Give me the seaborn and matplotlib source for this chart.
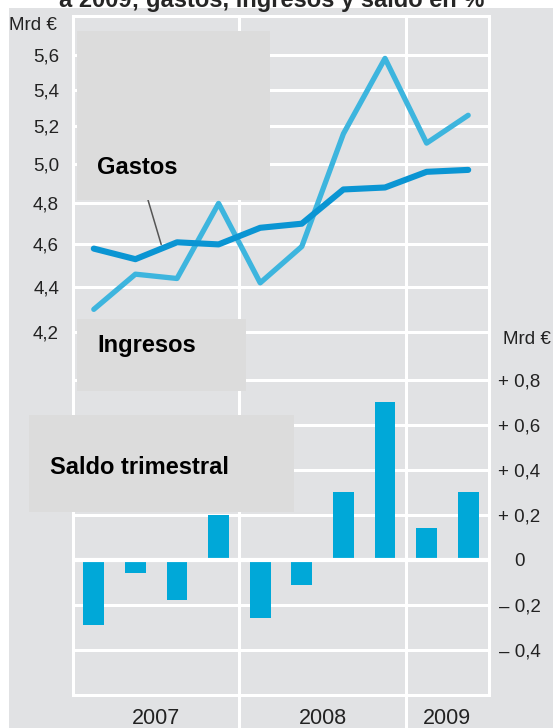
import numpy as np
import seaborn as sns
import matplotlib.pyplot as plt
from matplotlib.patches import Rectangle

# Datos trimestrales 2007 T1 - 2009 T2 (Mrd €)
trimestres = ["2007 T1", "2007 T2", "2007 T3", "2007 T4",
              "2008 T1", "2008 T2", "2008 T3", "2008 T4",
              "2009 T1", "2009 T2"]
gastos = [4.58, 4.53, 4.61, 4.60, 4.68, 4.70, 4.87, 4.88, 4.96, 4.97]
ingresos = [4.30, 4.46, 4.44, 4.80, 4.42, 4.59, 5.16, 5.58, 5.11, 5.26]
saldo = [-0.29, -0.06, -0.18, 0.20, -0.26, -0.11, 0.30, 0.70, 0.14, 0.30]

anios = ["2007", "2008", "2009"]
ticks_sup = [4.2, 4.4, 4.6, 4.8, 5.0, 5.2, 5.4, 5.6]
labels_sup = ["4,2", "4,4", "4,6", "4,8", "5,0", "5,2", "5,4", "5,6"]
ticks_inf = [-0.4, -0.2, 0.0, 0.2, 0.4, 0.6, 0.8]
labels_inf = ["\u2013 0,4", "\u2013 0,2", "0", "+ 0,2", "+ 0,4", "+ 0,6", "+ 0,8"]

# colores
FONDO = "#e1e2e4"
CAJA = "#dcdcdc"
C_GASTOS = "#0a95d3"
C_INGRESOS = "#3db5de"
C_SALDO = "#00a8d8"

sns.set_style("white")
plt.rcParams["font.family"] = ["Liberation Sans", "DejaVu Sans"]

W, H = 553, 728
fig = plt.figure(figsize=(W / 100, H / 100), dpi=100, facecolor="white")


def caja_px(x0, y0, x1, y1):
    # pixeles (origen arriba a la izquierda) -> fracción de figura
    return [x0 / W, 1 - y1 / H, (x1 - x0) / W, (y1 - y0) / H]


# fondo gris
fig.add_artist(Rectangle((9 / W, 0), 1, 1 - 8 / H, transform=fig.transFigure,
                         facecolor=FONDO, edgecolor="none", zorder=-10))

ax_top = fig.add_axes(caja_px(73, 16, 489, 357))
ax_bot = fig.add_axes(caja_px(73, 357, 489, 695))
x = np.arange(len(trimestres))

# --- gastos e ingresos (escala logarítmica) ---
ax_top.set_facecolor("none")
ax_top.set_yscale("log")
sns.lineplot(x=x, y=ingresos, ax=ax_top, color=C_INGRESOS, lw=3.8, zorder=3)
sns.lineplot(x=x, y=gastos, ax=ax_top, color=C_GASTOS, lw=4.4, zorder=4)
ax_top.set_xlim(-0.5, 9.5)
ax_top.set_ylim(4.0925, 5.831)
ax_top.set_yticks(ticks_sup, labels_sup)
ax_top.set_yticks([], minor=True)
ax_top.set_xticks([])
ax_top.grid(axis="y", color="white", lw=2.2)
ax_top.tick_params(axis="y", length=0, pad=10, labelsize=13.5, colors="#222222")
for s in ["top", "left", "right"]:
    ax_top.spines[s].set_color("white")
    ax_top.spines[s].set_linewidth(2.2)
ax_top.spines["bottom"].set_visible(False)
ax_top.axvline(3.5, color="white", lw=2.2, zorder=1)
ax_top.axvline(7.5, color="white", lw=2.2, zorder=1)
ax_top.set_xlabel("")
ax_top.set_ylabel("")

# --- saldo trimestral ---
ax_bot.set_facecolor("none")
sns.barplot(x=x, y=saldo, ax=ax_bot, color=C_SALDO, saturation=1,
            width=0.5, native_scale=True, edgecolor="none", zorder=2)
ax_bot.set_xlim(-0.5, 9.5)
ax_bot.set_ylim(-0.6, 0.9022)
ax_bot.set_axisbelow(True)
ax_bot.grid(axis="y", color="white", lw=2.2)
ax_bot.axhline(0, color="white", lw=3, zorder=4)
ax_bot.yaxis.tick_right()
ax_bot.set_yticks(ticks_inf, labels_inf)
ax_bot.tick_params(axis="y", length=0, pad=22, labelsize=13.5, colors="#222222")
for lbl in ax_bot.get_yticklabels():
    lbl.set_ha("center")
ax_bot.set_xticks([0.5, 1.5, 2.5, 4.5, 5.5, 6.5, 8.5],
                  ["", anios[0], "", "", anios[1], "", anios[2]])
ax_bot.tick_params(axis="x", direction="in", length=10, width=2.2,
                   color="white", pad=9, labelsize=15.5, labelcolor="#222222")
for s in ["bottom", "left", "right"]:
    ax_bot.spines[s].set_color("white")
    ax_bot.spines[s].set_linewidth(2.2)
ax_bot.spines["top"].set_visible(False)
for xv in [3.5, 7.5]:
    ax_bot.axvline(xv, ymin=-0.1, ymax=1, color="white", lw=2.2,
                   zorder=1, clip_on=False)
ax_bot.set_xlabel("")
ax_bot.set_ylabel("")

# unidades
fig.text(57 / W, 1 - 25 / H, "Mrd €", ha="right", va="center",
         fontsize=13.5, color="#222222")
fig.text(503 / W, 1 - 340 / H, "Mrd €", ha="left", va="center",
         fontsize=13.5, color="#222222")

# título (cortado arriba, como en el original)
fig.text(272 / W, 1 - 7 / H, "a 2009; gastos, ingresos y saldo en %",
         ha="center", va="baseline", fontsize=17, fontweight="bold",
         zorder=1)

# línea de referencia de "Gastos"
ax_top.annotate("", xy=(1.62, 4.6), xytext=(148 / W, 1 - 200 / H),
                textcoords="figure fraction",
                arrowprops=dict(arrowstyle="-", color="#555555", lw=1.1,
                                shrinkA=0, shrinkB=0), zorder=5)

# cajas de rótulos
cajas = [((77, 31, 270, 200), "Gastos", 97, 174),
         ((77, 319, 246, 391), "Ingresos", 97, 352),
         ((29, 415, 294, 512), "Saldo trimestral", 50, 474)]
for (x0, y0, x1, y1), txt, tx, ty in cajas:
    fig.add_artist(Rectangle((x0 / W, 1 - y1 / H), (x1 - x0) / W, (y1 - y0) / H,
                             transform=fig.transFigure, facecolor=CAJA,
                             edgecolor="none", zorder=10))
    fig.text(tx / W, 1 - ty / H, txt, ha="left", va="baseline", fontsize=17,
             fontweight="bold", color="black", zorder=11)

fig.savefig("out.png", dpi=100, facecolor="white")
